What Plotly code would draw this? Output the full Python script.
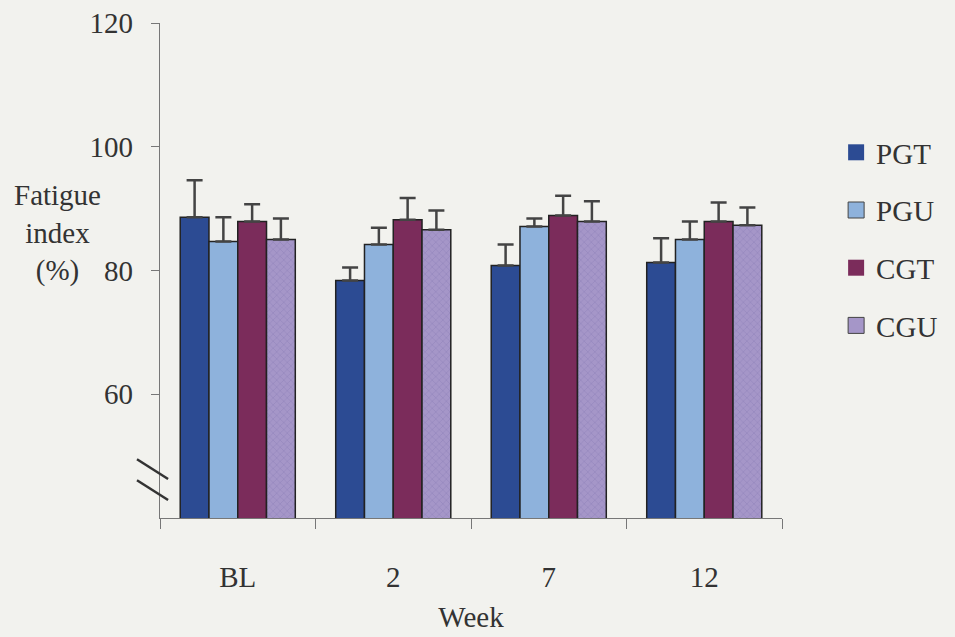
import plotly.graph_objects as go

weeks = ["BL", "2", "7", "12"]
groups = ["PGT", "PGU", "CGT", "CGU"]
pgt = [88.6, 78.4, 80.8, 81.3]
pgt_err = [6.0, 2.1, 3.4, 3.9]
pgu = [84.7, 84.2, 87.1, 85.0]
pgu_err = [3.9, 2.7, 1.3, 2.9]
cgt = [87.9, 88.2, 88.9, 87.9]
cgt_err = [2.8, 3.5, 3.2, 3.1]
cgu = [85.0, 86.6, 87.9, 87.3]
cgu_err = [3.4, 3.1, 3.3, 2.9]
y_ticks = [60, 80, 100, 120]

colors = ["#2c4b93", "#8eb2dc", "#7b2c5b", "#a596c8"]
values = [pgt, pgu, cgt, cgu]
errors = [pgt_err, pgu_err, cgt_err, cgu_err]

FONT = "Liberation Serif"
BG = "#f2f2ee"
TXT = "#333"

fig = go.Figure()
for name, vals, errs, col in zip(groups, values, errors, colors):
    marker = dict(color=col, line=dict(color="#222", width=1.5))
    if name == "CGU":
        marker["pattern"] = dict(shape="x", fgcolor="#8679b2", bgcolor=col,
                                 size=5, solidity=0.25)
    fig.add_trace(go.Bar(
        x=weeks, y=vals, name=name, marker=marker, showlegend=False,
        error_y=dict(type="data", array=errs, arrayminus=[0] * len(errs),
                     symmetric=False, color="#444", thickness=2.5, width=8),
    ))

# legend entries with square symbols
for name, col in zip(groups, colors):
    fig.add_trace(go.Scatter(
        x=[None], y=[None], mode="markers", name=name,
        legendgroup=name,
        marker=dict(symbol="square", size=20, color=col,
                    line=dict(color="#444", width=1 if name in ("PGU", "CGU") else 0)),
    ))

fig.update_layout(
    width=955, height=637, autosize=False,
    paper_bgcolor=BG, plot_bgcolor=BG,
    margin=dict(l=160, r=173, t=23, b=119, autoexpand=False),
    barmode="group", bargap=0.26, bargroupgap=0,
    font=dict(family=FONT, size=29, color=TXT),
    legend=dict(x=1.087, y=0.79, xanchor="left", yanchor="top",
                bgcolor="rgba(0,0,0,0)", tracegroupgap=17,
                traceorder="grouped", itemwidth=30,
                font=dict(family=FONT, size=29, color=TXT)),
    xaxis=dict(type="category", showline=True, linecolor="#777", linewidth=1.2,
               ticks="outside", tickson="boundaries", ticklen=10,
               tickcolor="#777", showgrid=False, zeroline=False,
               automargin=False, ticklabelstandoff=33,
               title=dict(text="Week", standoff=14,
                          font=dict(family=FONT, size=29, color=TXT)),
               tickfont=dict(family=FONT, size=29, color=TXT)),
    yaxis=dict(range=[40, 120], tickvals=y_ticks, ticktext=[str(v) for v in y_ticks],
               showline=True, linecolor="#777", linewidth=1.2,
               ticks="outside", ticklen=8, tickcolor="#777",
               automargin=False, ticklabelstandoff=12,
               showgrid=False, zeroline=False,
               tickfont=dict(family=FONT, size=29, color=TXT)),
    annotations=[dict(text="Fatigue<br>index<br>(%)", xref="paper", yref="y",
                      x=-0.165, y=86, showarrow=False, xanchor="center",
                      yanchor="middle", align="center",
                      font=dict(family=FONT, size=29, color=TXT))],
    shapes=[
        dict(type="line", xref="paper", yref="y", x0=-0.037, x1=0.013,
             y0=49.5, y1=46.3, line=dict(color="#333", width=2.5)),
        dict(type="line", xref="paper", yref="y", x0=-0.037, x1=0.013,
             y0=46.1, y1=42.9, line=dict(color="#333", width=2.5)),
    ],
)

fig.write_html("out.html", config={"displayModeBar": False},
               post_script="document.body.style.margin='0';document.body.style.overflow='hidden';")
